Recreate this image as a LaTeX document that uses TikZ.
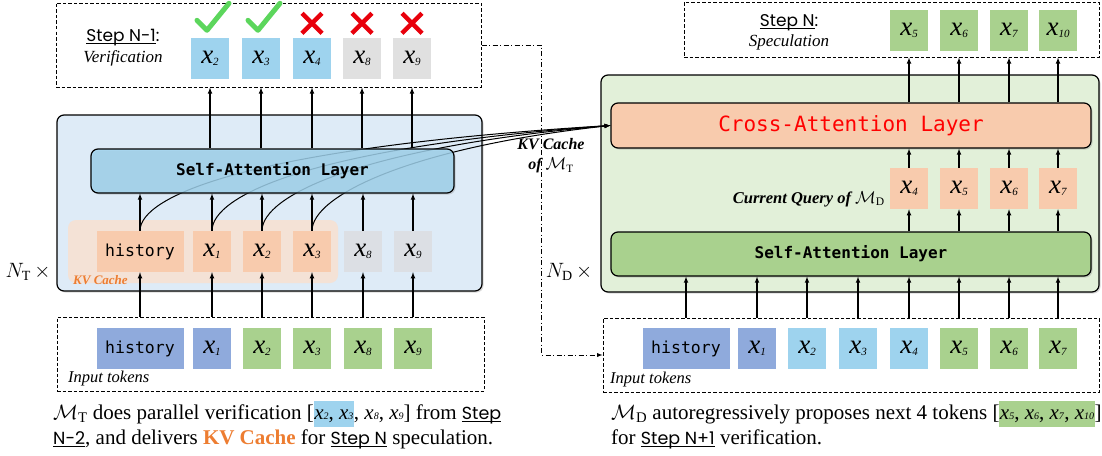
\documentclass[tikz,border=0pt]{standalone}
\usepackage{fontspec}
\setmainfont{Liberation Serif}
\newfontfamily\codefont{DejaVu Sans Mono}
\newfontfamily\stepfont{Poppins}
\usetikzlibrary{shadows}
\definecolor{bleuclair}{HTML}{DEEBF7}
\definecolor{bleucouche}{HTML}{9ED3EE}
\definecolor{peche}{HTML}{F8CBAD}
\definecolor{pechezone}{HTML}{F4E2D6}
\definecolor{grisjeton}{HTML}{DCDFE4}
\definecolor{grishaut}{HTML}{E0E0E0}
\definecolor{bleuentree}{HTML}{8FAADC}
\definecolor{vert}{HTML}{A9D18E}
\definecolor{vertclair}{HTML}{E2F0D9}
\definecolor{orangekv}{HTML}{ED7D31}
\definecolor{vertok}{HTML}{5CD65C}
\definecolor{rougeko}{HTML}{E8000B}
\newcommand{\xt}[1]{\textit{x}\raisebox{-0.15ex}{\fontsize{11}{11}\selectfont\textit{#1}}}
\newcommand{\xc}[1]{\textit{x}\raisebox{-0.1ex}{\fontsize{10}{10}\selectfont\textit{#1}}}
\newcommand{\souligne}[2][1.2pt]{\setbox0=\hbox{#2}\rlap{\rule[-3.2pt]{\wd0}{#1}}\box0}
\newcommand{\stepu}[1]{{\stepfont\fontsize{17.5}{25}\selectfont\souligne[1.6pt]{#1}}}
\begin{document}
\begin{tikzpicture}[x=1pt,y=-1pt]
		\tikzstyle{fleche}=[->,>=latex,line width=1.1pt]
		\tikzstyle{tiretpoint}=[->,>=latex,line width=0.9pt,dash pattern=on 5pt off 2.5pt on 1pt off 2.5pt]
		\tikzstyle{jeton}=[minimum width=38pt,minimum height=41pt,inner sep=0pt,font=\fontsize{27}{27}\selectfont]
		\tikzstyle{histo}=[jeton,minimum width=87pt,font=\codefont\fontsize{16.5}{16.5}\selectfont]
		\tikzstyle{cadre}=[draw,line width=1pt,dash pattern=on 3.5pt off 2pt,inner sep=0pt]
		\tikzstyle{bloc}=[draw,rounded corners=7pt,line width=1.2pt,inner sep=0pt,drop shadow={shadow xshift=1.5pt,shadow yshift=-1.5pt,opacity=0.3}]
		\tikzstyle{couche}=[bloc,font=\codefont\bfseries\fontsize{16}{16}\selectfont]
		\tikzstyle{okmark}=[vertok,line width=5pt,line cap=round,line join=round]
		\tikzstyle{nomark}=[rougeko,line width=4.5pt]
		\tikzstyle{legende}=[font=\fontsize{21}{25}\selectfont,anchor=base west,inner sep=0pt]
		\tikzstyle{etape}=[font=\stepfont\fontsize{17}{17}\selectfont,anchor=base,inner sep=0pt]
		
		\useasboundingbox (0,0) rectangle (1102,455);
		
		\def\LigneVerif{58}
		\def\LigneCache{251.5}
		\def\LigneEntree{348.5}
		\def\LigneRequete{188.5}
		\def\LigneSpec{30.5}
		
		\node[bloc,fill=bleuclair,minimum width=425pt,minimum height=176pt] (modelT) at (269.5,203) {};
		\node[bloc,fill=vertclair,minimum width=498pt,minimum height=217pt] (modelD) at (850,183.5) {};
		\node[couche,fill=peche,minimum width=480pt,minimum height=45pt,font=\codefont\fontsize{21}{21}\selectfont,text=red] (caD) at (851,125.5) {Cross-Attention Layer};
		\node[couche,fill=vert,minimum width=480pt,minimum height=44pt] (saD) at (851,254) {Self-Attention Layer};
		\node[fill=pechezone,rounded corners=8pt,minimum width=270pt,minimum height=63pt] (kvzone) at (203,251.5) {};
		
		\node[cadre,minimum width=425pt,minimum height=84pt] (verif) at (268.5,45) {};
		\node[cadre,minimum width=427pt,minimum height=74pt] (entreeT) at (270.5,354) {};
		\node[cadre,minimum width=415pt,minimum height=55pt] (specN) at (891.5,29.5) {};
		\node[cadre,minimum width=496pt,minimum height=74pt] (entreeD) at (851,355) {};
		
		\node[etape] (etapeA) at (123,41) {\souligne{Step N-1}:};
		\node[font=\itshape\fontsize{17}{17}\selectfont] (verifA) at (123,58) {Verification};
		\node[etape] (etapeB) at (789,26) {\souligne{Step N}:};
		\node[font=\itshape\fontsize{17}{17}\selectfont] (specB) at (789,42) {Speculation};
		
		\node[jeton,fill=bleucouche] (vT2) at (210,\LigneVerif) {\xt{2}};
		\node[jeton,fill=bleucouche] (vT3) at (261,\LigneVerif) {\xt{3}};
		\node[jeton,fill=bleucouche] (vT4) at (312,\LigneVerif) {\xt{4}};
		\node[jeton,fill=grishaut] (vT8) at (362,\LigneVerif) {\xt{8}};
		\node[jeton,fill=grishaut] (vT9) at (412,\LigneVerif) {\xt{9}};
		
		\node[histo,fill=peche] (cTh) at (140,\LigneCache) {history};
		\node[jeton,fill=peche] (cT1) at (212,\LigneCache) {\xt{1}};
		\node[jeton,fill=peche] (cT2) at (262,\LigneCache) {\xt{2}};
		\node[jeton,fill=peche] (cT3) at (312,\LigneCache) {\xt{3}};
		\node[jeton,fill=grisjeton] (cT8) at (363,\LigneCache) {\xt{8}};
		\node[jeton,fill=grisjeton] (cT9) at (413,\LigneCache) {\xt{9}};
		\node[font=\bfseries\itshape\fontsize{13}{13}\selectfont,text=orangekv,anchor=west,inner sep=0pt] (kvlab) at (73,280) {KV Cache};
		
		\node[histo,fill=bleuentree] (eTh) at (140,\LigneEntree) {history};
		\node[jeton,fill=bleuentree] (eT1) at (212,\LigneEntree) {\xt{1}};
		\node[jeton,fill=vert] (eT2) at (262,\LigneEntree) {\xt{2}};
		\node[jeton,fill=vert] (eT3) at (312,\LigneEntree) {\xt{3}};
		\node[jeton,fill=vert] (eT8) at (363,\LigneEntree) {\xt{8}};
		\node[jeton,fill=vert] (eT9) at (413,\LigneEntree) {\xt{9}};
		\node[font=\itshape\fontsize{16.5}{17}\selectfont,anchor=west,inner sep=0pt] (entA) at (68,379) {Input tokens};
		
		\node[jeton,fill=vert] (sD5) at (909,\LigneSpec) {\xt{5}};
		\node[jeton,fill=vert] (sD6) at (959,\LigneSpec) {\xt{6}};
		\node[jeton,fill=vert] (sD7) at (1009,\LigneSpec) {\xt{7}};
		\node[jeton,fill=vert] (sD10) at (1058,\LigneSpec) {\xt{10}};
		
		\node[jeton,fill=peche] (qD4) at (909,\LigneRequete) {\xt{4}};
		\node[jeton,fill=peche] (qD5) at (959,\LigneRequete) {\xt{5}};
		\node[jeton,fill=peche] (qD6) at (1009,\LigneRequete) {\xt{6}};
		\node[jeton,fill=peche] (qD7) at (1058,\LigneRequete) {\xt{7}};
		\node[font=\bfseries\itshape\fontsize{16.5}{17}\selectfont,anchor=east,inner sep=0pt] (requete) at (885,199) {Current Query of $\mathcal{M}_{\mathrm{D}}$};
		
		\node[histo,fill=bleuentree] (eDh) at (686,\LigneEntree) {history};
		\node[jeton,fill=bleuentree] (eD1) at (757,\LigneEntree) {\xt{1}};
		\node[jeton,fill=bleucouche] (eD2) at (807,\LigneEntree) {\xt{2}};
		\node[jeton,fill=bleucouche] (eD3) at (858,\LigneEntree) {\xt{3}};
		\node[jeton,fill=bleucouche] (eD4) at (909,\LigneEntree) {\xt{4}};
		\node[jeton,fill=vert] (eD5) at (959,\LigneEntree) {\xt{5}};
		\node[jeton,fill=vert] (eD6) at (1009,\LigneEntree) {\xt{6}};
		\node[jeton,fill=vert] (eD7) at (1058,\LigneEntree) {\xt{7}};
		\node[font=\itshape\fontsize{16.5}{17}\selectfont,anchor=west,inner sep=0pt] (entB) at (610,380) {Input tokens};
		
		\foreach \c/\d in {cTh/360,cT1/300,cT2/250,cT3/200}
			\draw[fleche,line width=1pt] (\c.north) .. controls +(0,-35) and +(-\d,22) .. (caD.west);
		\node[couche,fill=bleucouche,fill opacity=0.8,text opacity=1,minimum width=363pt,minimum height=44pt] (saT) at (272.5,171) {Self-Attention Layer};
		
		\foreach \c in {cTh,cT1,cT2,cT3,cT8,cT9} {
			\draw[fleche] (\c |- entreeT.north) -- (\c.south);
			\draw[fleche] (\c.north) -- (\c |- saT.south);
		}
		\foreach \v in {vT2,vT3,vT4,vT8,vT9}
			\draw[fleche] (\v |- saT.north) -- (\v |- verif.south);
		\foreach \e in {eDh,eD1,eD2,eD3,eD4,eD5,eD6,eD7}
			\draw[fleche] (\e |- entreeD.north) -- (\e |- saD.south);
		\foreach \q in {qD4,qD5,qD6,qD7} {
			\draw[fleche] (\q |- saD.north) -- (\q.south);
			\draw[fleche] (\q.north) -- (\q |- caD.south);
		}
		\foreach \s in {sD5,sD6,sD7,sD10}
			\draw[fleche] (\s |- caD.north) -- (\s |- specN.south);
		
		\foreach \v in {vT2,vT3}
			\draw[okmark] ([shift={(-13,-17)}]\v.north) -- ++(10,10) -- ++(22,-27);
		\foreach \v in {vT4,vT8,vT9} {
			\draw[nomark] ([shift={(-10,-24)}]\v.north) -- ++(20,20);
			\draw[nomark] ([shift={(10,-24)}]\v.north) -- ++(-20,20);
		}
		
		\draw[tiretpoint] (verif.east) -- ++(60,0) |- (entreeD.west);
		\node[font=\bfseries\itshape\fontsize{16}{20}\selectfont,align=center,inner sep=0pt] (kvof) at (551,156) {KV Cache\\of {\mdseries$\mathcal{M}_{\mathrm{T}}$}};
		\node[font=\fontsize{20}{20}\selectfont] (nT) at (28,272) {$N_{\mathrm{T}}\,\times$};
		\node[font=\fontsize{20}{20}\selectfont] (nD) at (569,272) {$N_{\mathrm{D}}\,\times$};
		
		\node[legende] (capA1) at (53,419) {$\mathcal{M}_{\mathrm{T}}$ does parallel verification [{\fboxsep=0.5pt\colorbox{bleucouche}{\strut\xc{2}, \xc{3}}}, \xc{8}, \xc{9}] from \stepu{Step}};
		\node[legende] (capA2) at (53,444) {\stepu{N-2}, and delivers {\bfseries\color{orangekv}KV Cache} for \stepu{Step N} speculation.};
		\node[legende] (capB1) at (611,419) {$\mathcal{M}_{\mathrm{D}}$ autoregressively proposes next 4 tokens [{\fboxsep=0.5pt\colorbox{vert}{\strut\xc{5}, \xc{6}, \xc{7}, \xc{10}}}]};
		\node[legende] (capB2) at (611,444) {for \stepu{Step N+1} verification.};
	\end{tikzpicture}
\end{document}
